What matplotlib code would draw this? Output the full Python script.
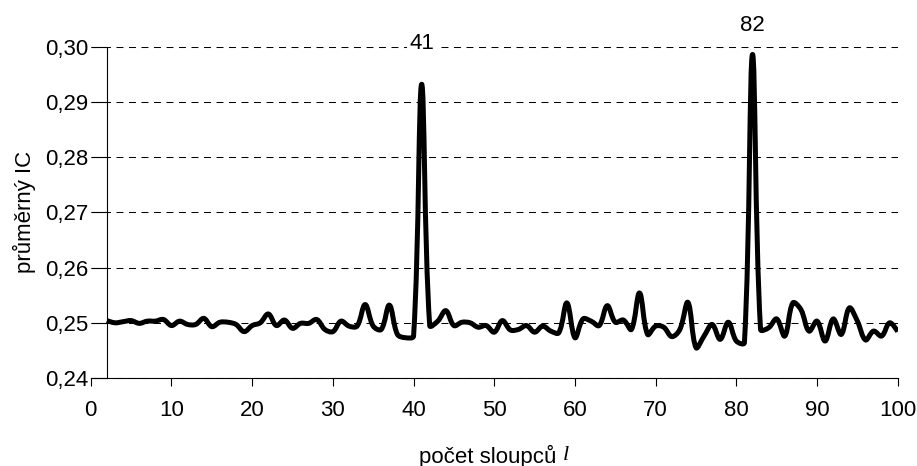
import matplotlib
matplotlib.use("Agg")
import numpy as np
import matplotlib.pyplot as plt
from matplotlib.path import Path
from matplotlib.patches import PathPatch
from matplotlib.ticker import FixedLocator, FuncFormatter

plt.rcParams['font.family'] = ['Liberation Sans', 'DejaVu Sans']
plt.rcParams['lines.scale_dashes'] = False

# number of columns l
columns = list(range(2, 101))
# mean index of coincidence for each l
mean_ic = [
    0.2504, 0.2500, 0.2502, 0.2504, 0.2499, 0.2503, 0.2503, 0.2506, 0.2495,
    0.2503, 0.2497, 0.2497, 0.2508, 0.2493, 0.2501, 0.2501, 0.2497, 0.2484,
    0.2495, 0.2500, 0.2516, 0.2495, 0.2505, 0.2490, 0.2499, 0.2499, 0.2506,
    0.2488, 0.2484, 0.2503, 0.2494, 0.2494, 0.2533, 0.2494, 0.2488, 0.2532,
    0.2479, 0.2473, 0.2476, 0.2932, 0.2495, 0.2503, 0.2522, 0.2495, 0.2501,
    0.2500, 0.2492, 0.2495, 0.2483, 0.2504, 0.2487, 0.2488, 0.2495, 0.2483,
    0.2494, 0.2485, 0.2482, 0.2536, 0.2473, 0.2507, 0.2503, 0.2495, 0.2531,
    0.2501, 0.2505, 0.2488, 0.2554, 0.2479, 0.2494, 0.2492, 0.2475, 0.2488,
    0.2537, 0.2455, 0.2476, 0.2497, 0.2470, 0.2501, 0.2467, 0.2464, 0.2986,
    0.2488, 0.2491, 0.2507, 0.2476, 0.2536, 0.2524, 0.2485, 0.2503, 0.2467,
    0.2507, 0.2479, 0.2527, 0.2503, 0.2469, 0.2485, 0.2476, 0.2500, 0.2484,
]
# column counts marked above their peaks
peak_columns = [41, 82]
peak_label_offsets = [29.5, 21.0]  # points above the point

x_ticks = list(range(0, 101, 10))
y_ticks = [0.24, 0.25, 0.26, 0.27, 0.28, 0.29, 0.30]

fig = plt.figure(figsize=(9.17, 4.66), dpi=100)
ax = fig.add_axes([0.099, 0.1888, 0.880, 0.711])
ax.set_xlim(0, 100)
ax.set_ylim(0.24, 0.30)


def smooth_path(ax, xs, ys, tension=0.36):
    """Cubic Bezier path through the points; tangents are split in
    proportion to the neighbouring chord lengths (measured on screen)."""
    pts = ax.transData.transform(np.column_stack([xs, ys]))
    n = len(pts)
    before = pts.copy()
    after = pts.copy()
    for i in range(1, n - 1):
        d = pts[i + 1] - pts[i - 1]
        l1 = np.hypot(*(pts[i] - pts[i - 1]))
        l2 = np.hypot(*(pts[i + 1] - pts[i]))
        s = l1 + l2
        before[i] = pts[i] - d * tension * l1 / s
        after[i] = pts[i] + d * tension * l2 / s
    verts = [pts[0]]
    codes = [Path.MOVETO]
    for i in range(n - 1):
        verts += [after[i], before[i + 1], pts[i + 1]]
        codes += [Path.CURVE4] * 3
    verts = ax.transData.inverted().transform(np.array(verts))
    return Path(verts, codes)


curve = PathPatch(smooth_path(ax, columns, mean_ic), fill=False, edgecolor='black',
                  linewidth=3.6, joinstyle='round', capstyle='butt', zorder=3)
ax.add_patch(curve)

for col, off in zip(peak_columns, peak_label_offsets):
    val = mean_ic[columns.index(col)]
    ax.annotate(str(col), xy=(col, val), xytext=(0, off), textcoords='offset points',
                ha='center', va='center', fontsize=16, zorder=4,
                bbox=dict(boxstyle='square,pad=0.12', fc='white', ec='none'),
                annotation_clip=False)

# dashed horizontal gridlines
ax.yaxis.set_major_locator(FixedLocator(y_ticks))
ax.grid(axis='y', color='black', linewidth=0.75, linestyle=(0, (5.0, 4.0)), zorder=1)
ax.set_axisbelow(True)

ax.xaxis.set_major_locator(FixedLocator(x_ticks))
ax.yaxis.set_major_formatter(FuncFormatter(lambda v, p: f"{v:.2f}".replace('.', ',')))

for s in ['top', 'right']:
    ax.spines[s].set_visible(False)
ax.spines['left'].set_position(('data', 2))
ax.spines['left'].set_linewidth(0.8)
ax.spines['bottom'].set_linewidth(0.8)

ax.tick_params(axis='y', direction='out', length=11.6, width=0.8, pad=2,
               labelsize=16, colors='black')
ax.tick_params(axis='x', direction='out', length=5.5, width=0.8, pad=10,
               labelsize=16, colors='black')

ax.set_ylabel('průměrný IC', fontsize=16, labelpad=6)

# x-axis title: upright text followed by an italic serif "l", centred as one
renderer = fig.canvas.get_renderer()
label_y = 1 - 456 / 466
t_main = fig.text(0, label_y, 'počet sloupců ', ha='left', va='center', fontsize=16)
t_var = fig.text(0, label_y, 'l', ha='left', va='center', fontsize=16,
                 family='Liberation Serif', style='italic')
w_main = t_main.get_window_extent(renderer).width
w_var = t_var.get_window_extent(renderer).width
fig_w = fig.bbox.width
x_center = 0.5 * (0.099 + 0.979) * fig_w
x0 = x_center - 0.5 * (w_main + w_var)
t_main.set_x(x0 / fig_w)
t_var.set_x((x0 + w_main) / fig_w)

fig.savefig('out.png', dpi=100)
